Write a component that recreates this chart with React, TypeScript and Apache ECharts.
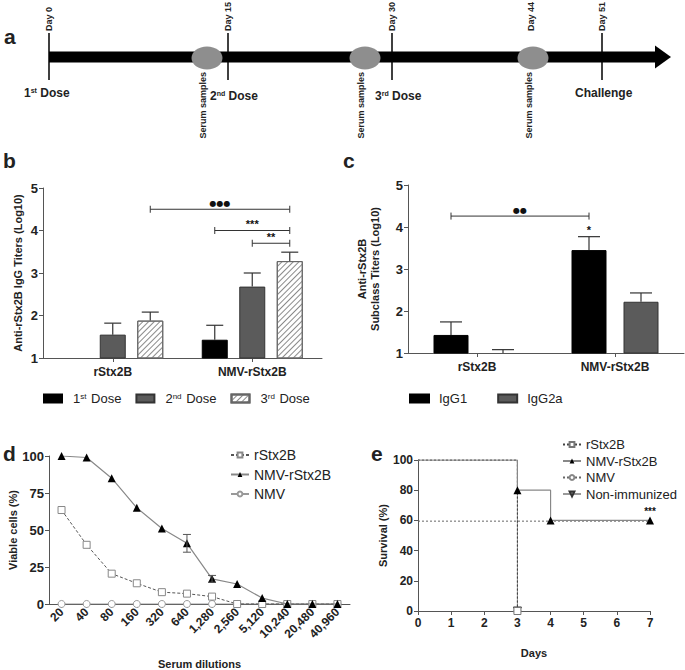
import React, { useEffect, useRef } from 'react';
import * as echarts from 'echarts';

// ---------- Panel a: immunisation schedule ----------
const scheduleDays = ['Day 0', 'Day 15', 'Day 30', 'Day 44', 'Day 51'];
const scheduleEvents = ['1st Dose', '2nd Dose', '3rd Dose', 'Challenge'];

// ---------- Panel b: anti-rStx2B IgG titers (log10) ----------
const titerGroups = ['rStx2B', 'NMV-rStx2B'];
const doseNames = ['1st Dose', '2nd Dose', '3rd Dose'];
const dose1Titer = [null, 1.43];
const dose2Titer = [1.55, 2.68];
const dose3Titer = [1.88, 3.28];
const dose1Upper = [null, 1.77];
const dose2Upper = [1.82, 3.0];
const dose3Upper = [2.08, 3.49];
// brackets: [fromGroup, fromDose, toGroup, toDose, level, label]
const titerBrackets: [number, number, number, number, number, string][] = [
  [0, 2, 1, 2, 4.5, '●●●'],
  [1, 0, 1, 2, 4.0, '***'],
  [1, 1, 1, 2, 3.7, '**'],
];

// ---------- Panel c: subclass titers ----------
const subclassGroups = ['rStx2B', 'NMV-rStx2B'];
const subclassNames = ['IgG1', 'IgG2a'];
const igg1Titer = [1.43, 3.45];
const igg2aTiter = [1.0, 2.22];
const igg1Upper = [1.74, 3.77];
const igg2aUpper = [1.08, 2.43];
const subclassBrackets: [number, number, number, number, number, string][] = [
  [0, 0, 1, 0, 4.26, '●●'],
];
const subclassStars = ['', '*'];

// ---------- Panel d: neutralisation ----------
const dilutions = ['20', '40', '80', '160', '320', '640', '1,280', '2,560', '5,120', '10,240', '20,480', '40,960'];
const viableRStx2B = [63.5, 40, 20.5, 14, 8, 7, 5, 0, 0, 0, 0, 0];
const viableNMVRStx2B = [100, 99, 85, 65, 51, 41, 17, 13.5, 4, 0, 0, 0];
const viableNMV = [0, 0, 0, 0, 0, 0, 0, 0, 0, 0, 0, 0];
const viableNMVRStx2BErr = [0, 0, 0, 0, 0, 6, 2.3, 0, 0, 0, 0, 0];

// ---------- Panel e: survival ----------
const survRStx2B = [[0, 100], [3, 0]];
const survNMVRStx2B = [[0, 100], [3, 80], [4, 60], [7, 60]];
const survNMV = [[0, 100], [3, 0]];
const survNonImmunized = [[0, 100], [3, 0]];
const survReference = [[0, 59.5], [7.35, 59.5]];

const FONT = 'Liberation Sans, Arial, sans-serif';
const TXT = '#222';
const AX = '#555';

const B_BAR_W = 26;
const B_STEP = 37.5;
const C_BAR_W = 35;
const C_STEP = 52;

function bOffset(i: number) { return (i - 1) * B_STEP; }
function cOffset(i: number) { return (i - 0.5) * C_STEP; }

function txt(x: number, y: number, text: string, extra: any = {}) {
  return {
    type: 'text', x, y, silent: true,
    style: {
      text, fill: TXT, fontFamily: FONT, fontSize: 12, fontWeight: 'bold',
      align: 'left', verticalAlign: 'middle', textAlign: 'left', textVerticalAlign: 'middle',
      ...extra,
    },
  };
}

function bracketRender(list: any[], offsetFn: (i: number) => number) {
  return (params: any, api: any) => {
    const b = list[params.dataIndex];
    const p1 = api.coord([b[0], b[4]]);
    const p2 = api.coord([b[2], b[4]]);
    const x1 = p1[0] + offsetFn(b[1]);
    const x2 = p2[0] + offsetFn(b[3]);
    const y = p1[1];
    const dots = b[5].indexOf('●') >= 0;
    return {
      type: 'group',
      children: [
        { type: 'line', shape: { x1, y1: y, x2, y2: y }, style: { stroke: '#333', lineWidth: 1 } },
        { type: 'line', shape: { x1, y1: y - 3.5, x2: x1, y2: y + 3.5 }, style: { stroke: '#333', lineWidth: 1 } },
        { type: 'line', shape: { x1: x2, y1: y - 3.5, x2, y2: y + 3.5 }, style: { stroke: '#333', lineWidth: 1 } },
        {
          type: 'text', x: (x1 + x2) / 2, y: dots ? y - 2 : y - 1,
          style: {
            text: b[5], fill: '#111', fontFamily: dots ? 'DejaVu Sans' : FONT,
            fontSize: dots ? 8 : 11, fontWeight: 'bold',
            align: 'center', verticalAlign: 'bottom', textAlign: 'center', textVerticalAlign: 'bottom',
          },
        },
      ],
    };
  };
}

function errorRender(offsetFn: (i: number) => number, cap: number, stars?: string[]) {
  return (params: any, api: any) => {
    const cat = api.value(0);
    const v = api.value(1);
    const up = api.value(2);
    const s = api.value(3);
    const p0 = api.coord([cat, v]);
    const p1 = api.coord([cat, up]);
    const x = p0[0] + offsetFn(s);
    const children: any[] = [
      { type: 'line', shape: { x1: x, y1: p0[1], x2: x, y2: p1[1] }, style: { stroke: '#333', lineWidth: 1.2 } },
      { type: 'line', shape: { x1: x - cap / 2, y1: p1[1], x2: x + cap / 2, y2: p1[1] }, style: { stroke: '#333', lineWidth: 1.2 } },
    ];
    if (stars && s === 0 && stars[cat]) {
      children.push({
        type: 'text', x, y: p1[1] - 1,
        style: {
          text: stars[cat], fill: '#111', fontFamily: FONT, fontSize: 11, fontWeight: 'bold',
          align: 'center', verticalAlign: 'bottom', textAlign: 'center', textVerticalAlign: 'bottom',
        },
      });
    }
    return { type: 'group', children };
  };
}

function errData(vals: (number | null)[][], uppers: (number | null)[][]) {
  const out: number[][] = [];
  vals.forEach((arr, s) => {
    arr.forEach((v, i) => {
      const u = uppers[s][i];
      if (v != null && u != null) out.push([i, v, u, s]);
    });
  });
  return out;
}

const catAxisCommon = {
  type: 'category',
  axisLine: { show: true, lineStyle: { color: AX, width: 1 } },
  axisTick: { show: true, alignWithLabel: true, length: 4, lineStyle: { color: AX } },
  axisLabel: { color: TXT, fontFamily: FONT, fontWeight: 'bold', fontSize: 12, margin: 8 },
};
const valAxisCommon = {
  type: 'value',
  axisLine: { show: true, lineStyle: { color: AX, width: 1 } },
  axisTick: { show: true, length: 4, lineStyle: { color: AX } },
  axisLabel: { color: TXT, fontFamily: FONT, fontWeight: 'bold', fontSize: 13, margin: 5 },
  splitLine: { show: false },
  nameLocation: 'middle',
  nameTextStyle: { color: TXT, fontFamily: FONT, fontWeight: 'bold', fontSize: 11 },
};

const supRich = {
  f: { fontSize: 13, fontFamily: FONT, color: TXT, padding: [0, 0, 0, 6] },
  n: { fontSize: 13, fontFamily: FONT, color: TXT },
  s: { fontSize: 8, fontFamily: FONT, color: TXT, verticalAlign: 'top', padding: [0, 1, 0, 0] },
};
const doseLabel: Record<string, string> = {
  '1st Dose': '{f|1}{s|st}{n| Dose}',
  '2nd Dose': '{f|2}{s|nd}{n| Dose}',
  '3rd Dose': '{f|3}{s|rd}{n| Dose}',
};

export default function App() {
  const ref = useRef<HTMLDivElement>(null);
  useEffect(() => {
    if (!ref.current) return;
    const chart = echarts.init(ref.current, null, { renderer: 'svg' });

    const tickX = [49, 228, 392, 602];
    const dayLabelX = [49, 228, 392, 531, 602];
    const ellipseX = [207, 365, 533];
    const serumX = [203, 361, 529];
    const eventPos = [[24, 93], [210, 96], [375, 96], [575, 93]];
    const eventSup = ['st', 'nd', 'rd', ''];

    const graphics: any[] = [];
    graphics.push(txt(4, 36, 'a', { fontSize: 21 }));
    graphics.push(txt(3, 160, 'b', { fontSize: 21 }));
    graphics.push(txt(343, 160, 'c', { fontSize: 21 }));
    graphics.push(txt(3, 453, 'd', { fontSize: 21 }));
    graphics.push(txt(371, 453, 'e', { fontSize: 21 }));
    graphics.push({ type: 'rect', shape: { x: 49, y: 51.5, width: 608, height: 11 }, style: { fill: '#000' }, silent: true });
    graphics.push({ type: 'polygon', shape: { points: [[655, 45.5], [671, 57], [655, 68.5]] }, style: { fill: '#000' }, silent: true });
    tickX.forEach((x) => graphics.push({ type: 'line', shape: { x1: x, y1: 33, x2: x, y2: 80 }, style: { stroke: '#000', lineWidth: 1.5 }, silent: true }));
    ellipseX.forEach((x) => graphics.push({ type: 'ellipse', shape: { cx: x, cy: 58, rx: 15.5, ry: 11.5 }, style: { fill: '#8e8e8e' }, silent: true }));
    scheduleDays.forEach((d, i) => graphics.push({
      type: 'text', x: dayLabelX[i], y: 31, rotation: Math.PI / 2, silent: true,
      style: { text: d, fill: TXT, fontFamily: FONT, fontSize: 9, fontWeight: 'bold', align: 'left', verticalAlign: 'middle', textAlign: 'left', textVerticalAlign: 'middle' },
    }));
    serumX.forEach((x) => graphics.push({
      type: 'text', x, y: 72, rotation: Math.PI / 2, silent: true,
      style: { text: 'Serum samples', fill: TXT, fontFamily: FONT, fontSize: 9, fontWeight: 'bold', align: 'right', verticalAlign: 'middle', textAlign: 'right', textVerticalAlign: 'middle' },
    }));
    scheduleEvents.forEach((ev, i) => {
      const sup = eventSup[i];
      const text = sup ? `{n|${ev.charAt(0)}}{s|${sup}}{n|${ev.slice(3)}}` : `{n|${ev}}`;
      graphics.push({
        type: 'text', x: eventPos[i][0], y: eventPos[i][1], silent: true,
        style: {
          text, align: 'left', verticalAlign: 'middle', textAlign: 'left', textVerticalAlign: 'middle',
          rich: {
            n: { fontSize: 12, fontWeight: 'bold', fontFamily: FONT, fill: TXT, color: TXT },
            s: { fontSize: 7, fontWeight: 'bold', fontFamily: FONT, fill: TXT, color: TXT, verticalAlign: 'top' },
          },
        },
      });
    });

    const hatch = {
      symbol: 'rect', symbolSize: 1, dashArrayX: [1, 0], dashArrayY: [1, 2.6],
      rotation: -Math.PI / 4, color: '#8a8a8a', backgroundColor: '#ffffff',
    };

    const option: any = {
      animation: false,
      backgroundColor: '#fff',
      textStyle: { fontFamily: FONT },
      grid: [
        { left: 43, top: 188, width: 279, height: 170 },
        { left: 408, top: 185, width: 276, height: 168 },
        { left: 49, top: 456, width: 301, height: 153 },
        { left: 418, top: 460, width: 232, height: 151 },
      ],
      xAxis: [
        { ...catAxisCommon, gridIndex: 0, data: titerGroups },
        { ...catAxisCommon, gridIndex: 1, data: subclassGroups },
        {
          ...catAxisCommon, gridIndex: 2, data: dilutions, boundaryGap: true,
          axisLabel: { ...catAxisCommon.axisLabel, rotate: 45, interval: 0, margin: 6 },
          name: 'Serum dilutions', nameLocation: 'middle', nameGap: 54,
          nameTextStyle: { color: TXT, fontFamily: FONT, fontWeight: 'bold', fontSize: 11 },
        },
        {
          ...valAxisCommon, gridIndex: 3, min: 0, max: 7, interval: 1,
          axisLabel: { ...valAxisCommon.axisLabel, fontSize: 12, margin: 6 },
          name: 'Days', nameGap: 36,
        },
      ],
      yAxis: [
        { ...valAxisCommon, gridIndex: 0, min: 1, max: 5, interval: 1, name: 'Anti-rStx2B IgG Titers (Log10)', nameGap: 20 },
        { ...valAxisCommon, gridIndex: 1, min: 1, max: 5, interval: 1, name: 'Anti-rStx2B\nSubclass Titers (Log10)', nameGap: 27, nameTextStyle: { ...valAxisCommon.nameTextStyle, lineHeight: 13 } },
        { ...valAxisCommon, gridIndex: 2, min: 0, max: 100, interval: 25, name: 'Viable cells (%)', nameGap: 28 },
        { ...valAxisCommon, gridIndex: 3, min: 0, max: 100, interval: 20, name: 'Survival (%)', nameGap: 30, axisLabel: { ...valAxisCommon.axisLabel, fontSize: 12 } },
      ],
      legend: [
        {
          data: doseNames, left: 43, top: 392, padding: 0, itemWidth: 18, itemHeight: 8, itemGap: 14,
          icon: 'rect', selectedMode: false,
          formatter: (n: string) => doseLabel[n] || n,
          textStyle: { rich: supRich, fontSize: 13, color: TXT },
        },
        {
          data: subclassNames, left: 409, top: 392, padding: 0, itemWidth: 19, itemHeight: 8, itemGap: 30,
          icon: 'rect', selectedMode: false,
          textStyle: { fontSize: 13, color: TXT, fontFamily: FONT, padding: [0, 0, 0, 5] },
        },
        {
          data: ['d:rStx2B', 'd:NMV-rStx2B', 'd:NMV'], orient: 'vertical', left: 230, top: 448, padding: 0,
          itemWidth: 18, itemHeight: 6, itemGap: 5.5, selectedMode: false,
          formatter: (n: string) => n.slice(2),
          textStyle: { fontSize: 14, color: TXT, fontFamily: FONT },
        },
        {
          data: ['e:rStx2B', 'e:NMV-rStx2B', 'e:NMV', 'e:Non-immunized'], orient: 'vertical', left: 562, top: 438, padding: 0,
          itemWidth: 18, itemHeight: 6, itemGap: 3.5, selectedMode: false,
          formatter: (n: string) => n.slice(2),
          textStyle: { fontSize: 13, color: TXT, fontFamily: FONT },
        },
      ],
      graphic: graphics,
      series: [
        // panel b bars
        {
          name: '1st Dose', type: 'bar', xAxisIndex: 0, yAxisIndex: 0, data: dose1Titer,
          barWidth: B_BAR_W, barGap: `${((B_STEP - B_BAR_W) / B_BAR_W) * 100}%`,
          itemStyle: { color: '#000', borderColor: '#000', borderWidth: 1 },
        },
        {
          name: '2nd Dose', type: 'bar', xAxisIndex: 0, yAxisIndex: 0, data: dose2Titer,
          barWidth: B_BAR_W, barGap: `${((B_STEP - B_BAR_W) / B_BAR_W) * 100}%`,
          itemStyle: { color: '#5b5b5b', borderColor: '#333', borderWidth: 1 },
        },
        {
          name: '3rd Dose', type: 'bar', xAxisIndex: 0, yAxisIndex: 0, data: dose3Titer,
          barWidth: B_BAR_W, barGap: `${((B_STEP - B_BAR_W) / B_BAR_W) * 100}%`,
          itemStyle: { color: '#fff', borderColor: '#666', borderWidth: 1, decal: hatch },
        },
        {
          type: 'custom', xAxisIndex: 0, yAxisIndex: 0, z: 5,
          data: errData([dose1Titer, dose2Titer, dose3Titer], [dose1Upper, dose2Upper, dose3Upper]),
          renderItem: errorRender(bOffset, 17),
        },
        {
          type: 'custom', xAxisIndex: 0, yAxisIndex: 0, z: 5,
          data: titerBrackets.map((b) => [b[0], b[4]]),
          renderItem: bracketRender(titerBrackets, bOffset),
        },
        // panel c bars
        {
          name: 'IgG1', type: 'bar', xAxisIndex: 1, yAxisIndex: 1, data: igg1Titer,
          barWidth: C_BAR_W, barGap: `${((C_STEP - C_BAR_W) / C_BAR_W) * 100}%`,
          itemStyle: { color: '#000', borderColor: '#000', borderWidth: 1 },
        },
        {
          name: 'IgG2a', type: 'bar', xAxisIndex: 1, yAxisIndex: 1, data: igg2aTiter,
          barWidth: C_BAR_W, barGap: `${((C_STEP - C_BAR_W) / C_BAR_W) * 100}%`,
          itemStyle: { color: '#5b5b5b', borderColor: '#333', borderWidth: 1 },
        },
        {
          type: 'custom', xAxisIndex: 1, yAxisIndex: 1, z: 5,
          data: errData([igg1Titer, igg2aTiter], [igg1Upper, igg2aUpper]),
          renderItem: errorRender(cOffset, 22, subclassStars),
        },
        {
          type: 'custom', xAxisIndex: 1, yAxisIndex: 1, z: 5,
          data: subclassBrackets.map((b) => [b[0], b[4]]),
          renderItem: bracketRender(subclassBrackets, cOffset),
        },
        // panel d
        {
          name: 'd:NMV', type: 'line', xAxisIndex: 2, yAxisIndex: 2, data: viableNMV,
          symbol: 'circle', symbolSize: 7,
          itemStyle: { color: '#fff', borderColor: '#999', borderWidth: 1 },
          lineStyle: { color: '#999', width: 1 },
        },
        {
          name: 'd:rStx2B', type: 'line', xAxisIndex: 2, yAxisIndex: 2, data: viableRStx2B,
          symbol: 'rect', symbolSize: 7,
          itemStyle: { color: '#fff', borderColor: '#888', borderWidth: 1 },
          lineStyle: { color: '#555', width: 1, type: [3, 2] },
        },
        {
          name: 'd:NMV-rStx2B', type: 'line', xAxisIndex: 2, yAxisIndex: 2, data: viableNMVRStx2B,
          symbol: 'triangle', symbolSize: 8, z: 4,
          itemStyle: { color: '#000' },
          lineStyle: { color: '#888', width: 1.2 },
        },
        {
          type: 'custom', xAxisIndex: 2, yAxisIndex: 2, z: 5,
          data: viableNMVRStx2B.map((v, i) => [i, v, viableNMVRStx2BErr[i]]).filter((d) => d[2] > 0),
          renderItem: (params: any, api: any) => {
            const i = api.value(0), v = api.value(1), e = api.value(2);
            const a = api.coord([i, v + e]);
            const b = api.coord([i, v - e]);
            const st = { stroke: '#555', lineWidth: 1 };
            return {
              type: 'group', children: [
                { type: 'line', shape: { x1: a[0], y1: a[1], x2: b[0], y2: b[1] }, style: st },
                { type: 'line', shape: { x1: a[0] - 4, y1: a[1], x2: a[0] + 4, y2: a[1] }, style: st },
                { type: 'line', shape: { x1: b[0] - 4, y1: b[1], x2: b[0] + 4, y2: b[1] }, style: st },
              ],
            };
          },
        },
        // panel e
        {
          type: 'line', xAxisIndex: 3, yAxisIndex: 3, data: survReference, symbol: 'none', silent: true,
          clip: false, lineStyle: { color: '#666', width: 1, type: [2, 2] },
        },
        {
          name: 'e:Non-immunized', type: 'line', xAxisIndex: 3, yAxisIndex: 3, step: 'end',
          data: survNonImmunized.map((d, i) => ({ value: d, symbol: i === 0 ? 'none' : 'triangle' })),
          symbol: 'triangle', symbolRotate: 180, symbolSize: 8,
          itemStyle: { color: '#888', borderColor: '#333', borderWidth: 1 },
          lineStyle: { color: '#999', width: 1 },
        },
        {
          name: 'e:NMV', type: 'line', xAxisIndex: 3, yAxisIndex: 3, step: 'end',
          data: survNMV.map((d, i) => ({ value: d, symbol: i === 0 ? 'none' : 'circle' })),
          symbol: 'circle', symbolSize: 7,
          itemStyle: { color: '#fff', borderColor: '#888', borderWidth: 1 },
          lineStyle: { color: '#666', width: 1, type: [2, 2] },
        },
        {
          name: 'e:rStx2B', type: 'line', xAxisIndex: 3, yAxisIndex: 3, step: 'end',
          data: survRStx2B.map((d, i) => ({ value: d, symbol: i === 0 ? 'none' : 'rect' })),
          symbol: 'rect', symbolSize: 7,
          itemStyle: { color: '#fff', borderColor: '#777', borderWidth: 1 },
          lineStyle: { color: '#444', width: 1, type: [2, 2] },
        },
        {
          name: 'e:NMV-rStx2B', type: 'line', xAxisIndex: 3, yAxisIndex: 3, step: 'end', z: 4,
          data: survNMVRStx2B.map((d, i) => ({
            value: d, symbol: i === 0 ? 'none' : 'triangle',
            label: i === survNMVRStx2B.length - 1
              ? { show: true, position: 'top', distance: 0, formatter: '***', color: '#111', fontSize: 10, fontWeight: 'bold', fontFamily: FONT, lineHeight: 10 }
              : { show: false },
          })),
          symbol: 'triangle', symbolSize: 8,
          itemStyle: { color: '#000' },
          lineStyle: { color: '#888', width: 1.2 },
        },
      ],
    };
    chart.setOption(option);
    return () => chart.dispose();
  }, []);
  return <div ref={ref} style={{ position: 'absolute', left: 0, top: 0, width: 685, height: 670 }} />;
}
